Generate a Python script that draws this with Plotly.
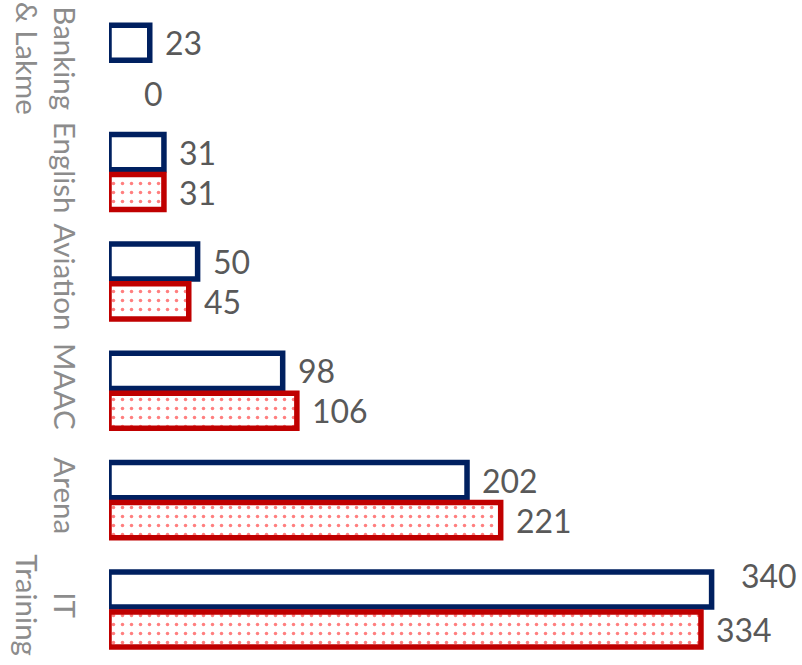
import plotly.graph_objects as go

categories = ["Banking<br>& Lakme", "English", "Aviation", "MAAC", "Arena", "IT<br>Training"]
series_a = [23, 31, 50, 98, 202, 340]   # blue outline
series_b = [0, 31, 45, 106, 221, 334]   # red dotted

BLUE = "#002060"
RED = "#C00000"
LABEL_COLOR = "#595959"
TICK_COLOR = "#8c8c8c"
FONT = "Lato"
LW = 5.5

fig = go.Figure()
fig.add_trace(go.Bar(
    y=categories, x=series_a, orientation="h", name="A",
    marker=dict(color="white",
                line=dict(color=BLUE, width=[LW if v else 0 for v in series_a])),
))
fig.add_trace(go.Bar(
    y=categories, x=series_b, orientation="h", name="B",
    marker=dict(color="white",
                line=dict(color=RED, width=[LW if v else 0 for v in series_b]),
                pattern=dict(shape=".", fgcolor="#FF0000", bgcolor="white",
                             size=9, solidity=0.12)),
))

# data labels (manual nudges for two labels, as in the original)
nudges = {(0, 5): (27, 14), (1, 0): (33, -11)}
annotations = []
for ti, vals in enumerate([series_a, series_b]):
    for ci, (cat, v) in enumerate(zip(categories, vals)):
        dx, dy = nudges.get((ti, ci), (13, 0))
        annotations.append(dict(
            x=v, y=cat, text=str(v), showarrow=False, xanchor="left",
            xshift=dx, yshift=dy + (20 if ti == 0 else -20),
            font=dict(family=FONT, size=32, color=LABEL_COLOR),
        ))

fig.update_layout(
    width=802, height=665,
    margin=dict(l=109, r=0, t=8, b=0),
    plot_bgcolor="white", paper_bgcolor="white",
    barmode="group", bargap=0.27, bargroupgap=0.12,
    showlegend=False,
    annotations=annotations,
    xaxis=dict(range=[0, 391], visible=False),
    yaxis=dict(autorange="reversed", tickangle=90, showline=False,
               showgrid=False, ticks="", ticklabelstandoff=24,
               tickfont=dict(family=FONT, size=29.5, color=TICK_COLOR)),
)

fig.write_html("out.html")
